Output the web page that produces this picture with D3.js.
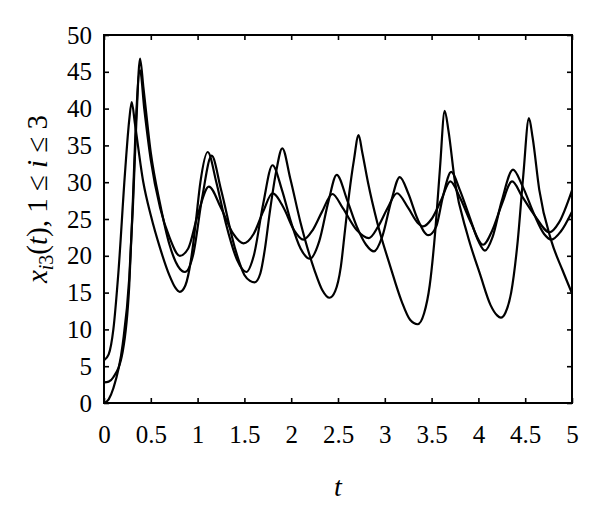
<!DOCTYPE html>
<html>
<head>
<meta charset="utf-8">
<script src="https://cdn.jsdelivr.net/npm/d3@7"></script>
<style>
  html, body { margin: 0; padding: 0; background: #fff; }
  svg { display: block; }
  .tick text { font-family: "Liberation Serif", "DejaVu Serif", serif; font-size: 25px; fill: #000; }
</style>
</head>
<body>
<svg id="chart" width="600" height="511"></svg>
<script>
// ---- data ----
const xTicks = [0, 0.5, 1, 1.5, 2, 2.5, 3, 3.5, 4, 4.5, 5];
const yTicks = [0, 5, 10, 15, 20, 25, 30, 35, 40, 45, 50];
const xTickLabels = ["0", "0.5", "1", "1.5", "2", "2.5", "3", "3.5", "4", "4.5", "5"];
const yTickLabels = ["0", "5", "10", "15", "20", "25", "30", "35", "40", "45", "50"];

// series 1 (starts near 6)
const t1 = [0, 0.05, 0.1, 0.153, 0.224, 0.27, 0.296, 0.33, 0.42, 0.5, 0.6, 0.7, 0.76, 0.81, 0.87, 0.93, 0.98, 1.03, 1.108, 1.2, 1.3, 1.42, 1.52, 1.6, 1.7, 1.8, 1.9, 2.0, 2.1, 2.2, 2.3, 2.4, 2.486, 2.6, 2.7, 2.8, 2.885, 2.97, 3.07, 3.16, 3.25, 3.35, 3.465, 3.55, 3.62, 3.71, 3.8, 3.9, 4.0, 4.07, 4.15, 4.25, 4.37, 4.47, 4.6, 4.7, 4.78, 4.88, 5.0];
const v1 = [5.8, 6.6, 10, 17.6, 31.2, 38.5, 40.9, 38, 30, 25.5, 21, 17.3, 15.7, 15.1, 16, 19.5, 24.5, 30, 34.1, 30, 24.5, 19.5, 17.8, 20, 27, 32.3, 29, 24.5, 21, 19.6, 22, 27.5, 31.0, 27.5, 24, 21.5, 20.6, 22.5, 27.5, 30.7, 28.5, 25, 22.8, 24, 28, 31.4, 29, 25.5, 22, 20.7, 22.5, 27.5, 31.7, 29.5, 25.5, 23, 22.2, 23.3, 26.0];

// series 2 (starts near 3)
const t2 = [0, 0.05, 0.1, 0.2, 0.27, 0.31, 0.34, 0.385, 0.43, 0.5, 0.6, 0.7, 0.81, 0.9, 1.0, 1.12, 1.25, 1.38, 1.49, 1.6, 1.7, 1.8, 1.92, 2.03, 2.13, 2.23, 2.33, 2.44, 2.55, 2.7, 2.83, 2.93, 3.03, 3.13, 3.25, 3.35, 3.41, 3.5, 3.6, 3.7, 3.8, 3.92, 4.05, 4.15, 4.25, 4.36, 4.47, 4.6, 4.76, 4.86, 5.0];
const v2 = [2.8, 2.9, 3.5, 7, 16, 28, 38, 45.2, 40, 33, 26.5, 22.5, 20.0, 21, 25.5, 29.4, 26.5, 23, 21.7, 23, 26, 28.5, 26.5, 23.5, 22.2, 23.5, 26, 28.4, 26.5, 23.5, 22.4, 24, 26.5, 28.5, 26.5, 24.5, 24.0, 25, 27.5, 30.1, 28, 24.5, 21.5, 23.5, 27, 30.1, 28, 25.5, 23.2, 24.5, 28.9];

// series 3 (starts at 0, large oscillations)
const t3 = [0, 0.05, 0.1, 0.2, 0.27, 0.31, 0.345, 0.385, 0.42, 0.5, 0.6, 0.7, 0.79, 0.865, 0.95, 1.05, 1.15, 1.25, 1.4, 1.5, 1.56, 1.61, 1.67, 1.72, 1.77, 1.84, 1.905, 1.99, 2.1, 2.25, 2.33, 2.41, 2.47, 2.53, 2.575, 2.62, 2.67, 2.72, 2.76, 2.82, 2.92, 3.06, 3.18, 3.27, 3.35, 3.42, 3.48, 3.54, 3.59, 3.64, 3.68, 3.75, 3.88, 4.02, 4.13, 4.2, 4.24, 4.29, 4.35, 4.42, 4.48, 4.54, 4.58, 4.65, 4.78, 4.9, 5.0];
const v3 = [0, 0.5, 2, 8, 17, 27, 38, 46.8, 43, 34, 27, 21.5, 18.6, 17.8, 20, 28, 33.6, 29, 21, 17.4, 16.6, 16.4, 17.6, 21, 25.8, 31.5, 34.6, 30.5, 24.5, 18, 15.4, 14.3, 15.2, 18.5, 23.5, 28.5, 33, 36.4, 34, 30, 24.5, 18.5, 13.8, 11.3, 10.7, 12.2, 16, 23.5, 32, 39.7, 37, 30, 23, 17.4, 13.3, 11.9, 11.6, 12.3, 15, 22, 31, 38.7, 36, 29, 22, 18, 14.9];

const seriesT = [t1, t2, t3];
const seriesV = [v1, v2, v3];

// ---- layout ----
const L = 104, R = 572, T = 35, B = 403;
const svg = d3.select("#chart");
const x = d3.scaleLinear().domain([0, 5]).range([L, R]);
const y = d3.scaleLinear().domain([0, 50]).range([B, T]);

// lines
const line = d3.line().x(d => x(d[0])).y(d => y(d[1])).curve(d3.curveMonotoneX);
seriesT.forEach((ts, k) => {
  const pts = ts.map((t, i) => [t, seriesV[k][i]]);
  svg.append("path").datum(pts)
    .attr("d", line)
    .attr("fill", "none")
    .attr("stroke", "#000")
    .attr("stroke-width", 2.2)
    .attr("stroke-linejoin", "round");
});

// axes (ticks inward on all four sides)
const fmtX = (d, i) => xTickLabels[i];
const fmtY = (d, i) => yTickLabels[i];
const gB = svg.append("g").attr("transform", `translate(0,${B})`)
  .call(d3.axisBottom(x).tickValues(xTicks).tickFormat(fmtX).tickSizeInner(-5).tickSizeOuter(0).tickPadding(22));
const gL = svg.append("g").attr("transform", `translate(${L},0)`)
  .call(d3.axisLeft(y).tickValues(yTicks).tickFormat(fmtY).tickSizeInner(-5).tickSizeOuter(0).tickPadding(12));
const gT = svg.append("g").attr("transform", `translate(0,${T})`)
  .call(d3.axisTop(x).tickValues(xTicks).tickFormat("").tickSizeInner(-5).tickSizeOuter(0));
const gR = svg.append("g").attr("transform", `translate(${R},0)`)
  .call(d3.axisRight(y).tickValues(yTicks).tickFormat("").tickSizeInner(-5).tickSizeOuter(0));
[gB, gL, gT, gR].forEach(g => {
  g.select(".domain").remove();
  g.selectAll(".tick line").attr("stroke", "#000").attr("stroke-width", 1.6);
});

// frame
svg.append("rect").attr("x", L).attr("y", T).attr("width", R - L).attr("height", B - T)
  .attr("fill", "none").attr("stroke", "#000").attr("stroke-width", 2);

// axis titles
const serif = "'Liberation Serif', 'DejaVu Serif', serif";
svg.append("text").attr("x", (L + R) / 2).attr("y", 496)
  .attr("text-anchor", "middle").attr("font-family", serif).attr("font-size", 28)
  .attr("font-style", "italic").text("t");

const yl = svg.append("text")
  .attr("transform", "translate(47,199) rotate(-90)")
  .attr("text-anchor", "middle").attr("font-family", serif).attr("font-size", 29);
yl.append("tspan").attr("font-style", "italic").text("x");
yl.append("tspan").attr("font-style", "italic").attr("font-size", 20).attr("dy", 6).text("i");
yl.append("tspan").attr("font-size", 20).text("3");
yl.append("tspan").attr("dy", -6).text("(");
yl.append("tspan").attr("font-style", "italic").text("t");
yl.append("tspan").text("), 1 \u2264 ");
yl.append("tspan").attr("font-style", "italic").text("i");
yl.append("tspan").text(" \u2264 3");
</script>
</body>
</html>
